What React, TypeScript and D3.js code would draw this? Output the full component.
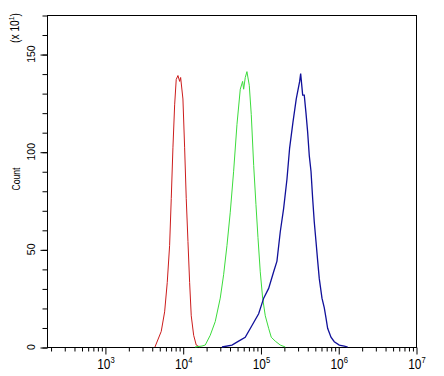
import { useEffect, useRef } from 'react';
import * as d3 from 'd3';

// fluorescence intensity / count (x10^1)
const redFluor = [4400, 5300, 5860, 6330, 6790, 7130, 7490, 7880, 8260, 8690, 9140, 9410, 10070, 10590, 11110, 11690, 12280, 12880, 13840, 14940, 16520];
const redCount = [0, 8, 18, 33, 52, 76, 102, 124, 137, 139, 136, 138, 127, 102, 76, 54, 33, 16, 6, 1, 0];

const greenFluor = [14380, 17690, 19500, 22600, 26200, 30400, 33600, 37100, 40900, 45200, 49900, 55000, 59000, 60800, 63800, 67000, 71800, 76200, 81800, 87500, 92900, 99400, 106700, 115300, 127400, 137700, 155000, 179800, 208500];
const greenCount = [0, 0.5, 1, 6, 13, 25, 37, 52, 69, 90, 114, 132, 136, 132, 138, 141, 134, 119, 93, 73, 56, 38.5, 25, 16, 9.6, 5, 3, 1, 0];

const blueFluor = [32000, 43000, 52400, 63700, 77800, 94800, 110000, 127400, 147800, 163000, 179800, 198700, 219300, 237300, 261600, 288600, 319200, 328800, 349000, 365800, 384500, 404400, 424300, 446600, 469000, 492000, 517800, 544500, 570700, 618000, 662000, 695000, 731000, 807000, 890000, 1032000, 1197000, 1324000];
const blueCount = [0, 1, 3, 5, 11, 17, 25, 30, 38.5, 44, 59, 71, 86, 102, 115, 127, 136, 140, 129, 129, 120, 110, 98, 90, 76, 64, 54, 44, 35, 25, 20, 15, 9.6, 5, 2.7, 1, 0.5, 0];

const xMajorTicks = [1e3, 1e4, 1e5, 1e6, 1e7];
const xTickExponents = ['3', '4', '5', '6', '7'];
const yMajorTicks = [0, 50, 100, 150];
const xDomain = [180, 1e7];
const yDomain = [0, 170];

const series = [
  { x: redFluor, y: redCount, color: '#cc1c1c', width: 1 },
  { x: greenFluor, y: greenCount, color: '#3cdc3c', width: 1 },
  { x: blueFluor, y: blueCount, color: '#10109a', width: 1.3 },
];

const App = () => {
  const svgRef = useRef<SVGSVGElement>(null);
  const width = 444;
  const height = 376;

  useEffect(() => {
    if (!svgRef.current) return;
    const svg = d3.select(svgRef.current);
    svg.selectAll('*').remove();

    const margin = { top: 15, right: 28, bottom: 29, left: 47 };
    const x = d3.scaleLog().domain(xDomain).range([margin.left, width - margin.right]);
    const y = d3.scaleLinear().domain(yDomain).range([height - margin.bottom, margin.top]);
    const font = 'Arial, "Liberation Sans", sans-serif';

    // frame
    svg.append('rect')
      .attr('x', margin.left + 0.5)
      .attr('y', margin.top + 0.5)
      .attr('width', width - margin.right - margin.left)
      .attr('height', height - margin.bottom - margin.top)
      .attr('fill', 'none')
      .attr('stroke', '#000')
      .attr('stroke-width', 1);

    // x axis
    const x0 = height - margin.bottom + 0.5;
    const minor = x.ticks().filter(t => !xMajorTicks.includes(t) && t >= xDomain[0]);
    svg.append('g')
      .attr('transform', `translate(0.5,${x0})`)
      .call(d3.axisBottom(x).tickValues(minor).tickSize(4).tickSizeOuter(0).tickFormat(() => ''))
      .call(g => g.select('.domain').remove());
    svg.append('g')
      .attr('transform', `translate(0.5,${x0})`)
      .call(d3.axisBottom(x).tickValues(xMajorTicks).tickSize(7).tickSizeOuter(0).tickFormat(() => ''))
      .call(g => g.select('.domain').remove());

    xMajorTicks.forEach((t, i) => {
      const txt = svg.append('text')
        .attr('transform', `translate(${x(t) + 1},369) scale(0.85,1)`)
        .attr('text-anchor', 'middle')
        .attr('font-family', font)
        .attr('font-size', 14)
        .attr('fill', '#000');
      txt.append('tspan').text('10');
      txt.append('tspan').attr('dy', -6).attr('font-size', 9).text(xTickExponents[i]);
    });

    // y axis
    const yLeft = margin.left + 0.5;
    svg.append('g')
      .attr('transform', `translate(${yLeft},0.5)`)
      .call(d3.axisLeft(y).ticks(17).tickSize(5).tickSizeOuter(0).tickFormat(() => ''))
      .call(g => g.select('.domain').remove());
    svg.append('g')
      .attr('transform', `translate(${yLeft},0.5)`)
      .call(d3.axisLeft(y).tickValues(yMajorTicks).tickSize(7).tickSizeOuter(0).tickFormat(() => ''))
      .call(g => g.select('.domain').remove());

    yMajorTicks.forEach(t => {
      svg.append('text')
        .attr('transform', `translate(35,${y(t)}) rotate(-90)`)
        .attr('text-anchor', 'middle')
        .attr('font-family', font)
        .attr('font-size', 10.5)
        .attr('fill', '#000')
        .text(String(t));
    });

    const unit = svg.append('text')
      .attr('transform', `translate(19,28) rotate(-90) scale(0.85,1)`)
      .attr('text-anchor', 'middle')
      .attr('font-family', font)
      .attr('font-size', 12)
      .attr('fill', '#000');
    unit.append('tspan').text('(x 10');
    unit.append('tspan').attr('dy', -5).attr('font-size', 8).text('1');
    unit.append('tspan').attr('dy', 5).text(')');

    svg.append('text')
      .attr('transform', `translate(20,179) rotate(-90) scale(0.75,1)`)
      .attr('text-anchor', 'middle')
      .attr('font-family', font)
      .attr('font-size', 11.5)
      .attr('fill', '#000')
      .text('Count');

    // histograms
    series.forEach(s => {
      const pts = s.x.map((v, i) => [v, s.y[i]] as [number, number]);
      svg.append('path')
        .datum(pts)
        .attr('fill', 'none')
        .attr('stroke', s.color)
        .attr('stroke-width', s.width)
        .attr('d', d3.line<[number, number]>().x(d => x(d[0])).y(d => y(d[1])));
    });
  }, []);

  return (
    <svg
      ref={svgRef}
      width={width}
      height={height}
      style={{ position: 'absolute', left: 0, top: 0, background: '#fff' }}
    />
  );
};

export default App;
